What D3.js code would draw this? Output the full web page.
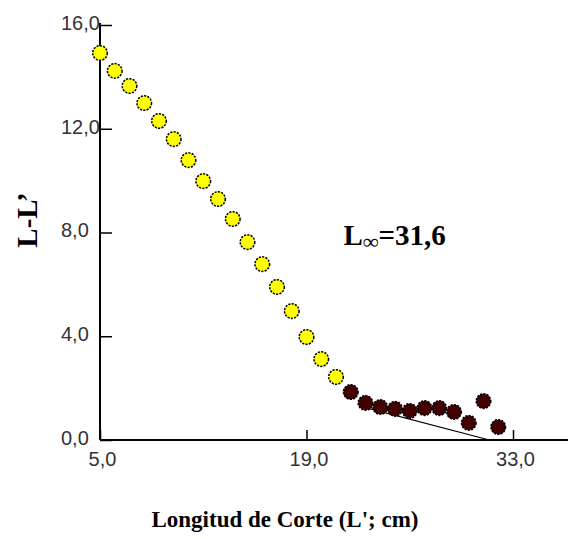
<!DOCTYPE html>
<html>
<head>
<meta charset="utf-8">
<script src="https://cdn.jsdelivr.net/npm/d3@7"></script>
<style>
  html, body { margin: 0; padding: 0; background: #fff; }
  svg { display: block; }
</style>
</head>
<body>
<svg id="chart" width="568" height="539"></svg>
<script>
// ---- data ----
const xTicks = [5, 19, 33];
const yTicks = [0, 4, 8, 12, 16];
const tickLabel = v => v.toFixed(1).replace(".", ",");

const yellowX = [5, 6, 7, 8, 9, 10, 11, 12, 13, 14, 15, 16, 17, 18, 19, 20, 21];
const yellowY = [14.92, 14.23, 13.65, 12.99, 12.30, 11.60, 10.79, 9.98, 9.29, 8.52, 7.63, 6.78, 5.90, 4.97, 3.97, 3.12, 2.43];

const darkX = [22, 23, 24, 25, 26, 27, 28, 29, 30, 31, 32];
const darkY = [1.85, 1.43, 1.27, 1.20, 1.12, 1.23, 1.23, 1.08, 0.66, 1.50, 0.50];

const fitX = [23, 31.4];
const fitY = [1.25, 0];

const annotX = 21.5, annotY = 7.5;

// ---- layout ----
const W = 568, H = 539;
const svg = d3.select("#chart");
const x = d3.scaleLinear().domain([5, 33]).range([100, 513]);
const y = d3.scaleLinear().domain([0, 16]).range([440, 25]);

// axes
const yAxis = d3.axisLeft(y).tickValues(yTicks).tickFormat(tickLabel)
  .tickSizeInner(-12).tickSizeOuter(0);
const gy = svg.append("g").attr("transform", `translate(${x(5)},0)`).call(yAxis);
gy.select(".domain").remove();
gy.selectAll(".tick line").attr("stroke", "#000").attr("stroke-width", 1.5);
gy.selectAll(".tick text")
  .attr("x", -39).attr("y", -2).attr("text-anchor", "start")
  .attr("font-family", "'Liberation Sans', Arial, sans-serif")
  .attr("font-size", 20).attr("fill", "#333");

const xAxis = d3.axisBottom(x).tickValues(xTicks).tickFormat(tickLabel)
  .tickSizeInner(-10).tickSizeOuter(0);
const gx = svg.append("g").attr("transform", `translate(0,${y(0)})`).call(xAxis);
gx.select(".domain").remove();
gx.selectAll(".tick line").attr("stroke", "#000").attr("stroke-width", 1.5);
gx.selectAll(".tick text")
  .attr("y", 12).attr("x", 2)
  .attr("font-family", "'Liberation Sans', Arial, sans-serif")
  .attr("font-size", 20).attr("fill", "#333");

// axis lines
svg.append("line").attr("x1", x(5)).attr("x2", x(5)).attr("y1", y(16) - 2).attr("y2", y(0))
  .attr("stroke", "#000").attr("stroke-width", 2);
svg.append("line").attr("x1", x(5)).attr("x2", W).attr("y1", y(0)).attr("y2", y(0))
  .attr("stroke", "#000").attr("stroke-width", 2);

// fit line
svg.append("path")
  .attr("d", d3.line().x((d, i) => x(fitX[i])).y((d, i) => y(fitY[i]))(fitX))
  .attr("fill", "none").attr("stroke", "#000").attr("stroke-width", 1.2);

// markers
function markers(xs, ys, fill) {
  svg.append("g").selectAll("circle").data(xs).join("circle")
    .attr("cx", (d) => x(d))
    .attr("cy", (d, i) => y(ys[i]))
    .attr("r", 7.3)
    .attr("fill", fill)
    .attr("stroke", "#000")
    .attr("stroke-width", 1.5)
    .attr("stroke-dasharray", "2.2,1.2");
}
markers(yellowX, yellowY, "#ffff00");
markers(darkX, darkY, "#420000");

// annotation
const ann = svg.append("text")
  .attr("x", x(annotX)).attr("y", y(annotY))
  .attr("font-family", "'Liberation Serif', 'Times New Roman', serif")
  .attr("font-weight", "bold").attr("font-size", 29).attr("fill", "#000");
ann.append("tspan").text("L");
ann.append("tspan").attr("font-size", 22).attr("dy", 4).text("\u221E");
ann.append("tspan").attr("dy", -4).text("=31,6");

// axis titles
svg.append("text")
  .attr("x", 285).attr("y", 527)
  .attr("text-anchor", "middle")
  .attr("font-family", "'Liberation Serif', 'Times New Roman', serif")
  .attr("font-weight", "bold").attr("font-size", 23).attr("fill", "#000")
  .text("Longitud de Corte (L'; cm)");

svg.append("text")
  .attr("transform", "translate(37,220) rotate(-90)")
  .attr("text-anchor", "middle")
  .attr("font-family", "'Liberation Serif', 'Times New Roman', serif")
  .attr("font-weight", "bold").attr("font-size", 29).attr("fill", "#000")
  .text("L-L\u2019");
</script>
</body>
</html>
